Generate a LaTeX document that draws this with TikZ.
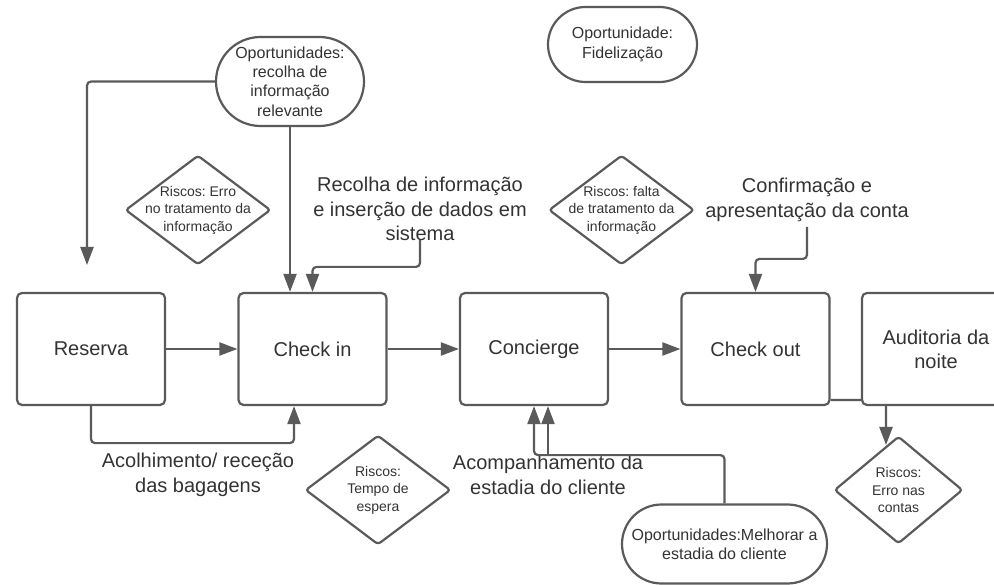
\documentclass[tikz,border=0pt]{standalone}
\usepackage{fontspec}
\setmainfont{Liberation Sans}
\usetikzlibrary{arrows.meta,shapes.misc}
\definecolor{edge}{HTML}{5A5A5A}
\definecolor{ink}{HTML}{333333}
\frenchspacing
\begin{document}
\begin{tikzpicture}[x=1pt,y=-1pt,
  stepbox/.style={draw=edge, line width=2.2pt, rounded corners=5pt, fill=white,
    minimum width=148pt, minimum height=112pt, inner sep=0pt, text=ink,
    font=\fontsize{20}{24}\selectfont, align=center},
  risk/.style={inner sep=0pt, minimum width=144pt, minimum height=108pt, text=ink,
    font=\fontsize{14}{17.5}\selectfont, align=center},
  riskline/.style={draw=edge, line width=2.2pt, rounded corners=3pt, line join=round},
  chance/.style={rounded rectangle, draw=edge, line width=2.2pt, fill=white,
    inner sep=0pt, text=ink, font=\fontsize{16}{19.3}\selectfont, align=center},
  note/.style={text=ink, font=\fontsize{20}{24.5}\selectfont, align=center, inner sep=3pt},
  arr/.style={draw=edge, line width=2.2pt, rounded corners=4pt,
    -{Triangle[length=18pt,width=13pt]}}]

\useasboundingbox (0,0) rectangle (994,585);
\clip (0,0) rectangle (994,585);

% process steps
\node[stepbox] (reserva)   at (91,349)    {Reserva};
\node[stepbox] (checkin)   at (312.5,349) {Check in};
\node[stepbox] (concierge) at (534,349)   {Concierge};
\node[stepbox] (checkout)  at (755.5,349) {Check out};

% risks: the text sits in a box, the diamond joins the box's side midpoints
\node[risk] (r1) at (198,210)   {Riscos: Erro\\no tratamento da\\informação};
\node[risk] (r2) at (621.5,210) {Riscos: falta\\de tratamento da\\informação};
\node[risk] (r3) at (378,490)   {Riscos:\\Tempo de\\espera};
\node[risk, minimum width=127pt, minimum height=106pt] (r4) at (898.5,490)
  {Riscos:\\Erro nas\\contas};
\foreach \r in {r1,r2,r3,r4}
  \draw[riskline] (\r.west) -- (\r.north) -- (\r.east) -- (\r.south) -- cycle;

% opportunities
\node[chance, minimum width=148pt, minimum height=89pt] (o1) at (290,81.5)
  {Oportunidades:\\recolha de\\informação\\relevante};
\node[chance, minimum width=149pt, minimum height=75pt] (o2) at (622.5,44.5)
  {Oportunidade:\\Fidelização};
\node[chance, minimum width=205pt, minimum height=79pt] (o3) at (724.5,544)
  {Oportunidades:Melhorar a\\estadia do cliente};

% free labels
\node[note] (recolha) at (420,209)
  {Recolha de informação\\e inserção de dados em\\sistema};
\node[note] (confirma) at (807,200)
  {Confirmação e\\apresentação da conta};
\node[note] (acolhe) at (198,475)
  {Acolhimento/ receção\\das bagagens};
\node[note] (acomp) at (548,475)
  {Acompanhamento da\\estadia do cliente};

\coordinate (resin) at (87,265);
\coordinate (r4in) at (886,445);

% connectors
\draw[arr] (reserva) -- (checkin);
\draw[arr] (checkin) -- (concierge);
\draw[arr] (concierge) -- (checkout);

\draw[arr] (o1.west) -| (resin);
\draw[arr] (o1.south) -- (o1.south |- checkin.north);
\draw[arr] ([yshift=4pt]recolha.south) |- ([yshift=25pt]checkin.north) -- (checkin.north);
\draw[arr] ([yshift=-2pt]confirma.south) |- ([yshift=33pt]checkout.north) -- (checkout.north);
\draw[arr] (reserva.south) -- ++(0,37) -| ([xshift=-18.5pt]checkin.south);
\draw[arr] (o3.north) |- ([yshift=-49pt]concierge.south) -- (concierge.south);
\draw[arr] ([yshift=-3pt]acomp.north) -- (acomp.north |- concierge.south);
\draw[arr] ([yshift=-51pt]checkout.east) -| (r4in);

% night audit sits over the connector it hides
\node[stepbox] (auditoria) at (936,349) {Auditoria da\\noite};
\end{tikzpicture}
\end{document}
